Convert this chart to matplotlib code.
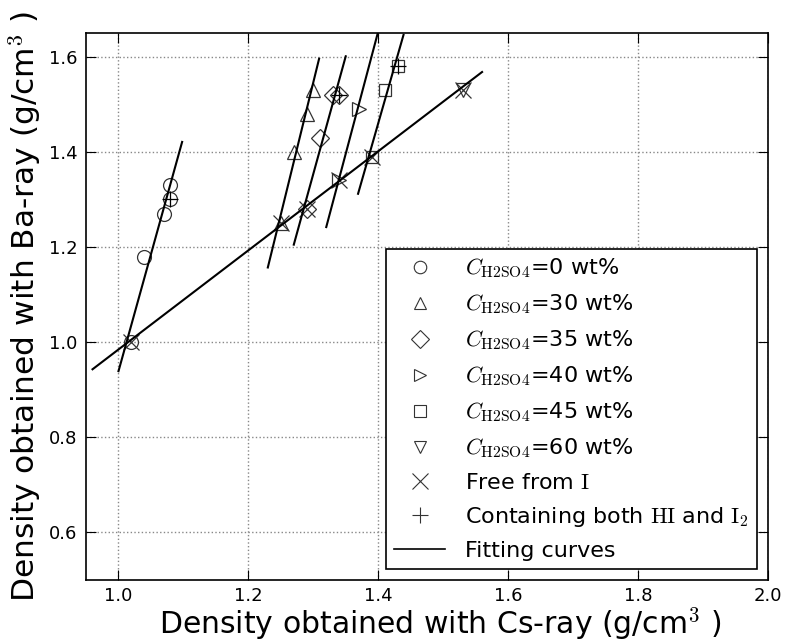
import numpy as np
import matplotlib
matplotlib.use('Agg')
import matplotlib.pyplot as plt
from matplotlib.lines import Line2D

plt.rcParams['mathtext.fontset'] = 'cm'
plt.rcParams['font.family'] = 'DejaVu Sans'

# measured densities (Cs-ray, Ba-ray) for each H2SO4 concentration
cs_0 = [1.02, 1.04, 1.07, 1.08, 1.08]
ba_0 = [1.00, 1.18, 1.27, 1.30, 1.33]
cs_30 = [1.25, 1.27, 1.29, 1.30]
ba_30 = [1.25, 1.40, 1.48, 1.53]
cs_35 = [1.29, 1.31, 1.33, 1.34]
ba_35 = [1.28, 1.43, 1.52, 1.52]
cs_40 = [1.34, 1.37]
ba_40 = [1.34, 1.49]
cs_45 = [1.39, 1.41, 1.43]
ba_45 = [1.39, 1.53, 1.58]
cs_60 = [1.53]
ba_60 = [1.53]

# samples free from iodine
cs_free = [1.02, 1.25, 1.29, 1.34, 1.39, 1.53]
ba_free = [1.00, 1.25, 1.28, 1.34, 1.39, 1.53]
# samples containing both HI and I2
cs_both = [1.08, 1.34, 1.43]
ba_both = [1.30, 1.52, 1.58]

# fitting lines: (x_start, x_end), (y_start, y_end)
fit_x = [(1.000, 1.098), (1.230, 1.309), (1.270, 1.350),
         (1.320, 1.399), (1.369, 1.439), (0.960, 1.560)]
fit_y = [(0.939, 1.421), (1.157, 1.596), (1.205, 1.601),
         (1.242, 1.648), (1.312, 1.646), (0.943, 1.568)]

conc_labels = ['0', '30', '35', '40', '45', '60']

fig = plt.figure(figsize=(7.85, 6.42), dpi=100, facecolor='white')
ax = fig.add_axes([0.1096, 0.0966, 0.8684, 0.852])

mk = dict(linestyle='none', markerfacecolor='none', markeredgecolor='#333333',
          markeredgewidth=0.9, markersize=10)
ax.plot(cs_0, ba_0, marker='o', **mk)
ax.plot(cs_30, ba_30, marker='^', **mk)
ax.plot(cs_35, ba_35, marker='D', **dict(mk, markersize=9))
ax.plot(cs_40, ba_40, marker='>', **mk)
ax.plot(cs_45, ba_45, marker='s', **dict(mk, markersize=9))
ax.plot(cs_60, ba_60, marker='v', **mk)
ax.plot(cs_free, ba_free, marker='x', **dict(mk, markersize=12))
ax.plot(cs_both, ba_both, marker='+', **dict(mk, markersize=12, markeredgecolor='black'))

for xs, ys in zip(fit_x, fit_y):
    ax.plot(xs, ys, color='black', linewidth=1.5)

ax.set_xlim(0.95, 2.0)
ax.set_ylim(0.5, 1.65)
ax.set_xticks([1.0, 1.2, 1.4, 1.6, 1.8, 2.0])
ax.set_yticks([0.6, 0.8, 1.0, 1.2, 1.4, 1.6])
ax.grid(True, linestyle=':', color='#888888', linewidth=1.0)
ax.tick_params(direction='in', length=7, labelsize=13, top=True, right=True, pad=6)
ax.tick_params(axis='x', pad=5)
for sp in ax.spines.values():
    sp.set_linewidth(1.2)

ax.set_xlabel(r'Density obtained with Cs-ray (g/cm$^3$ )', fontsize=21.5, labelpad=0)
ax.xaxis.label.set_x(0.52)
ax.set_ylabel(r'Density obtained with Ba-ray (g/cm$^3$ )', fontsize=22.5, labelpad=4)

lm = dict(linestyle='none', markerfacecolor='none', markeredgecolor='#333333',
          markeredgewidth=0.8, markersize=9)
handles = [Line2D([], [], marker=m, **lm) for m in ['o', '^', 'D', '>', 's', 'v']]
handles += [Line2D([], [], marker='x', **dict(lm, markersize=11)),
            Line2D([], [], marker='+', **dict(lm, markersize=11)),
            Line2D([], [], color='black', linewidth=1.2)]
labels = [r'$C_{\rm H2SO4}$=' + c + ' wt%' for c in conc_labels]
labels += [r'Free from $\rm I$', r'Containing both $\rm HI$ and $\rm I_2$', 'Fitting curves']
leg = ax.legend(handles, labels, loc='lower right', fontsize=16, numpoints=1,
                fancybox=False, framealpha=1, edgecolor='black',
                borderaxespad=0.5, labelspacing=0.55, handlelength=2.3,
                handletextpad=0.9, borderpad=0.35)
leg.get_frame().set_linewidth(1.2)

fig.savefig('out.png', dpi=100, facecolor='white')
